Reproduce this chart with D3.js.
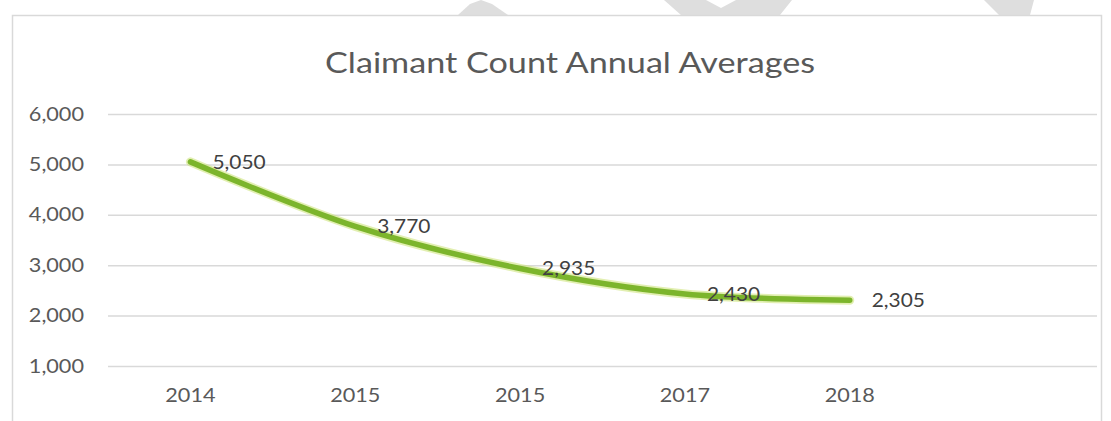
<!DOCTYPE html>
<html>
<head>
<meta charset="utf-8">
<script src="https://cdn.jsdelivr.net/npm/d3@7"></script>
<style>
  body { margin: 0; background: #fff; }
  svg { display: block; }
  text { font-family: Lato, "Open Sans", sans-serif; }
</style>
</head>
<body>
<svg id="chart" width="1111" height="421"></svg>
<script>
// Claimant count, annual averages
const years = ["2014", "2015", "2015", "2017", "2018"];
const claimants = [5050, 3770, 2935, 2430, 2305];
const yTicks = [1000, 2000, 3000, 4000, 5000, 6000];
const chartTitle = "Claimant Count Annual Averages";

const W = 1111, H = 421;
const plot = { left: 108, right: 1097, top: 114, bottom: 366 };
const slots = 6; // category axis keeps one empty slot at the right end
const textWiden = 1.14; // glyphs are set slightly wide

const svg = d3.select("#chart");

// widen a text element horizontally, keeping its anchor
function widen(sel, factor) {
  sel.each(function () {
    const w = this.getComputedTextLength();
    d3.select(this)
      .attr("textLength", w * factor)
      .attr("lengthAdjust", "spacingAndGlyphs");
  });
}

// faint grey shapes peeking above the chart frame
const deco = svg.append("g").attr("fill", "#dedede");
[
  [[458, 15], [470, 4], [481, 0], [492, 4], [508, 15]],
  [[664, 0], [706, 0], [721, 8], [736, 0], [792, 0], [780, 15], [681, 15]],
  [[984, 0], [1034, 0], [1030, 15], [999, 15]]
].forEach(p => deco.append("polygon").attr("points", p.map(q => q.join(",")).join(" ")));

// chart frame
svg.append("rect")
  .attr("x", 12.5).attr("y", 15.5)
  .attr("width", 1089).attr("height", H + 10)
  .attr("fill", "#fff")
  .attr("stroke", "#d9d9d9").attr("stroke-width", 1.5);

const x = d3.scaleBand().domain(d3.range(slots)).range([plot.left, plot.right]);
const cx = i => x(i) + x.bandwidth() / 2;
const y = d3.scaleLinear().domain([1000, 6000]).range([plot.bottom, plot.top]);

// title
const titleText = svg.append("text")
  .attr("x", 570).attr("y", 63).attr("dy", "0.35em")
  .attr("text-anchor", "middle")
  .attr("fill", "#595959")
  .attr("font-size", 28)
  .text(chartTitle);
titleText.attr("textLength", 490).attr("lengthAdjust", "spacingAndGlyphs");

// value axis with gridlines
const yAxis = svg.append("g")
  .attr("transform", `translate(${plot.left},0)`)
  .call(d3.axisLeft(y)
    .tickValues(yTicks)
    .tickFormat(d3.format(","))
    .tickSize(-(plot.right - plot.left))
    .tickPadding(24));
yAxis.select(".domain").remove();
yAxis.selectAll(".tick line").attr("stroke", "#d9d9d9").attr("stroke-width", 1.5);
yAxis.selectAll(".tick text").attr("fill", "#595959").attr("font-size", 19)
  .call(widen, textWiden);

// category axis
const xAxis = svg.append("g")
  .attr("transform", `translate(0,${plot.bottom})`)
  .call(d3.axisBottom(x)
    .tickValues(d3.range(years.length))
    .tickFormat(i => years[i])
    .tickSize(0)
    .tickPadding(29));
xAxis.select(".domain").remove();
xAxis.selectAll(".tick text").attr("fill", "#595959").attr("font-size", 19).attr("dy", "0.35em")
  .call(widen, textWiden);

// smoothed series line
const line = d3.line()
  .x((d, i) => cx(i))
  .y(d => y(d))
  .curve(d3.curveCatmullRom.alpha(0.5));

svg.append("path")
  .datum(claimants)
  .attr("d", line)
  .attr("fill", "none")
  .attr("stroke", "#cfe57e")
  .attr("stroke-opacity", 0.6)
  .attr("stroke-width", 9)
  .attr("stroke-linecap", "round");

svg.append("path")
  .datum(claimants)
  .attr("d", line)
  .attr("fill", "none")
  .attr("stroke", "#7cb52c")
  .attr("stroke-width", 5.5)
  .attr("stroke-linecap", "round")
  .attr("stroke-linejoin", "round");

// data labels to the right of each point
svg.append("g")
  .selectAll("text")
  .data(claimants)
  .join("text")
  .attr("x", (d, i) => cx(i) + 22)
  .attr("y", d => y(d))
  .attr("dy", "0.35em")
  .attr("fill", "#404040")
  .attr("font-size", 19)
  .text(d => d3.format(",")(d))
  .call(widen, 1.1);
</script>
</body>
</html>
